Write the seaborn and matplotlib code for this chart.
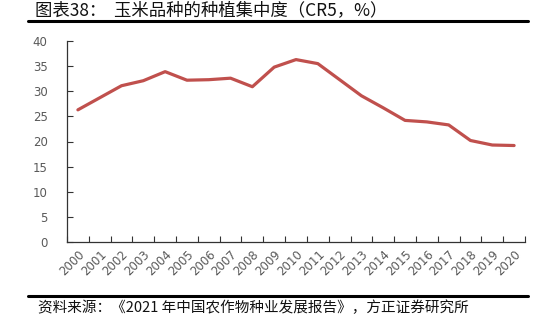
import matplotlib
matplotlib.use("Agg")
import matplotlib.pyplot as plt
import seaborn as sns
import pandas as pd
from matplotlib.lines import Line2D

years = [str(y) for y in range(2000, 2021)]
cr5 = [26.3, 28.7, 31.1, 32.1, 33.9, 32.2, 32.3, 32.6, 30.9, 34.8, 36.3,
       35.5, 32.3, 29.1, 26.7, 24.2, 23.9, 23.3, 20.2, 19.3, 19.2]
yticks = [0, 5, 10, 15, 20, 25, 30, 35, 40]
title = "图表38：  玉米品种的种植集中度（CR5，%）"
source = "资料来源：《2021 年中国农作物种业发展报告》，方正证券研究所"

sns.set_style("white")
plt.rcParams['font.family'] = ['Noto Sans CJK SC', 'DejaVu Sans']

df = pd.DataFrame({"idx": range(len(years)), "year": years, "cr5": cr5})

fig = plt.figure(figsize=(5.49, 3.31), dpi=100)
ax = fig.add_axes([67/549, 1-242/331, (525-67)/549, (242-41)/331])
sns.lineplot(data=df, x="idx", y="cr5", ax=ax, color="#C0504D", linewidth=2.3)

ax.set_xlim(-0.5, len(years) - 0.5)
ax.set_ylim(0, 40)
ax.set_yticks(yticks)
ax.set_yticklabels([str(v) for v in yticks], fontsize=8.5, color="#595959",
                   family=["Liberation Sans Narrow", "DejaVu Sans"])
ax.set_xticks(range(len(years)))
ax.set_xticklabels(years, rotation=45, ha="right", rotation_mode="anchor",
                   fontsize=8.5, color="#595959",
                   family=["Liberation Sans Narrow", "DejaVu Sans"])
ax.set_xticks([i - 0.5 for i in range(len(years) + 1)], minor=True)
ax.tick_params(axis="x", which="major", length=0, pad=4, bottom=True)
ax.tick_params(axis="x", which="minor", length=4, direction="in", color="#333333",
               width=0.8, bottom=True)
ax.tick_params(axis="y", which="major", length=4, direction="in", color="#333333",
               width=0.8, pad=14, left=True)
ax.set_xlabel("")
ax.set_ylabel("")
for s in ["top", "right"]:
    ax.spines[s].set_visible(False)
for s in ["left", "bottom"]:
    ax.spines[s].set_color("#333333")
    ax.spines[s].set_linewidth(0.9)

fig.text(35/549, 1-10/331, title, fontsize=12.5, va="center", ha="left", color="#111111")
fig.add_artist(Line2D([28/549, 528/549], [1-21/331, 1-21/331], color="black", linewidth=2.2,
                      transform=fig.transFigure))
fig.add_artist(Line2D([28/549, 528/549], [1-296/331, 1-296/331], color="black", linewidth=2.2,
                      transform=fig.transFigure))
fig.text(38/549, 1-308/331, source, fontsize=10.5, va="center", ha="left", color="#111111",
         style="italic")

fig.savefig("out.png", dpi=100)
